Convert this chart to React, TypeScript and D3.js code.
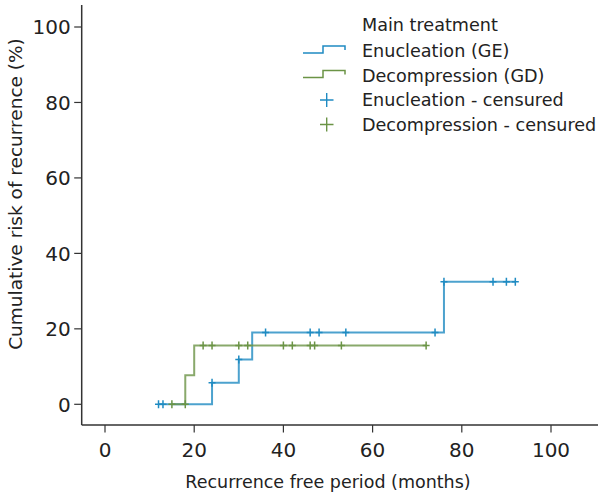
import React, { useEffect, useRef } from 'react';
import * as d3 from 'd3';

// step curves: [months, cumulative risk %]
const enucleationSteps: [number, number][] = [[12, 0], [24, 5.7], [30, 11.9], [33, 19.0], [76, 32.5], [92, 32.5]];
const decompressionSteps: [number, number][] = [[15, 0], [18, 7.7], [20, 15.6], [72, 15.6]];

// censored observations
const enucleationCensored: [number, number][] = [
  [12, 0], [13, 0], [24, 5.7], [30, 11.9], [36, 19.0], [46, 19.0], [48, 19.0], [54, 19.0], [74, 19.0],
  [76, 32.5], [87, 32.5], [90, 32.5], [92, 32.5],
];
const decompressionCensored: [number, number][] = [
  [15, 0], [18, 0], [22, 15.6], [24, 15.6], [30, 15.6], [32, 15.6], [40, 15.6], [42, 15.6],
  [46, 15.6], [47, 15.6], [53, 15.6], [72, 15.6],
];

const xTicks = [0, 20, 40, 60, 80, 100];
const yTicks = [0, 20, 40, 60, 80, 100];
const legendTitle = 'Main treatment';
const legendLabels = ['Enucleation (GE)', 'Decompression (GD)', 'Enucleation - censured', 'Decompression - censured'];

const BLUE = '#1f8bc2';
const GREEN = '#6b9446';
const FONT = '"DejaVu Sans", sans-serif';

const App = () => {
  const svgRef = useRef<SVGSVGElement>(null);

  useEffect(() => {
    const svg = d3.select(svgRef.current);
    svg.selectAll('*').remove();

    const x = d3.scaleLinear().domain([0, 100]).range([105, 551]);
    const y = d3.scaleLinear().domain([0, 100]).range([404.3, 27]);
    const left = 81.7, bottom = 425;

    const axisColor = '#333';
    svg.append('line').attr('x1', left).attr('x2', left).attr('y1', 5).attr('y2', bottom)
      .attr('stroke', axisColor).attr('stroke-width', 1.5);
    svg.append('line').attr('x1', left).attr('x2', 598).attr('y1', bottom).attr('y2', bottom)
      .attr('stroke', axisColor).attr('stroke-width', 1.5);

    yTicks.forEach(t => {
      svg.append('line').attr('x1', left - 7.5).attr('x2', left).attr('y1', y(t)).attr('y2', y(t))
        .attr('stroke', axisColor).attr('stroke-width', 1.2);
      svg.append('text').attr('x', left - 11).attr('y', y(t)).attr('dy', '0.36em')
        .attr('text-anchor', 'end').attr('font-family', FONT).attr('font-size', 20).attr('fill', '#222')
        .text(t);
    });
    xTicks.forEach(t => {
      svg.append('line').attr('x1', x(t)).attr('x2', x(t)).attr('y1', bottom).attr('y2', bottom + 7.5)
        .attr('stroke', axisColor).attr('stroke-width', 1.2);
      svg.append('text').attr('x', x(t)).attr('y', 450).attr('dy', '0.36em')
        .attr('text-anchor', 'middle').attr('font-family', FONT).attr('font-size', 20).attr('fill', '#222')
        .text(t);
    });

    svg.append('text').attr('x', x(50)).attr('y', 482).attr('dy', '0.35em')
      .attr('text-anchor', 'middle').attr('font-family', FONT).attr('font-size', 17.5).attr('fill', '#222')
      .text('Recurrence free period (months)');
    svg.append('text').attr('transform', 'translate(16,194) rotate(-90)').attr('dy', '0.35em')
      .attr('text-anchor', 'middle').attr('font-family', FONT).attr('font-size', 18.5).attr('fill', '#222')
      .text('Cumulative risk of recurrence (%)');

    const line = d3.line<[number, number]>().x(d => x(d[0])).y(d => y(d[1])).curve(d3.curveStepAfter);

    const drawCurve = (steps: [number, number][], cens: [number, number][], color: string) => {
      svg.append('path').attr('d', line(steps)).attr('fill', 'none')
        .attr('stroke', color).attr('stroke-width', 2).attr('stroke-opacity', 0.8);
      cens.forEach(d => {
        const cx = x(d[0]), cy = y(d[1]);
        svg.append('path').attr('d', `M${cx - 3.5},${cy}H${cx + 3.5}M${cx},${cy - 4}V${cy + 4}`)
          .attr('stroke', color).attr('stroke-width', 1.5).attr('fill', 'none');
      });
    };
    drawCurve(enucleationSteps, enucleationCensored, BLUE);
    drawCurve(decompressionSteps, decompressionCensored, GREEN);

    // legend
    const lg = svg.append('g').attr('font-family', FONT).attr('font-size', 17.6).attr('fill', '#222');
    lg.append('text').attr('x', 362).attr('y', 25).attr('dy', '0.35em').text(legendTitle);
    const colors = [BLUE, GREEN, BLUE, GREEN];
    legendLabels.forEach((lab, i) => {
      const cy = 51 + i * 24.5;
      lg.append('text').attr('x', 362).attr('y', cy).attr('dy', '0.35em').text(lab);
      if (i < 2) {
        lg.append('path').attr('d', `M303,${cy + 2}H323V${cy - 5}H345V${cy - 1}`)
          .attr('fill', 'none').attr('stroke', colors[i]).attr('stroke-width', 1.5);
      } else {
        lg.append('path').attr('d', `M320,${cy}H333.5M326.7,${cy - 7}V${cy + 7}`)
          .attr('fill', 'none').attr('stroke', colors[i]).attr('stroke-width', 1.4);
      }
    });
  }, []);

  return <svg ref={svgRef} width={598} height={495} style={{ position: 'absolute', left: 0, top: 0 }} />;
};

export default App;
